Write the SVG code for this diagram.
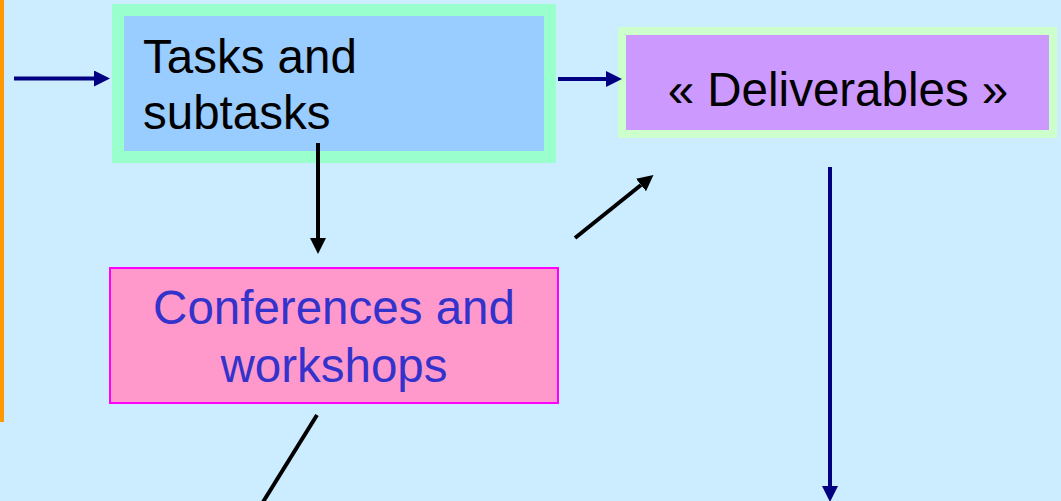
<svg xmlns="http://www.w3.org/2000/svg" width="1061" height="501" viewBox="0 0 1061 501">
<style>
.lbl{font-family:"Liberation Sans",Arial,sans-serif;font-size:47.5px}
.navy{stroke:#000080;stroke-width:4;fill:none}
.blk{stroke:#000000;stroke-width:4;fill:none}
</style>
<defs>
<marker id="ahNavy" markerUnits="userSpaceOnUse" viewBox="0 0 16 16" refX="0" refY="8" markerWidth="16" markerHeight="16" orient="auto">
<path d="M0,0 L16,8 L0,16 z" fill="#000080"/>
</marker>
<marker id="ahBlk" markerUnits="userSpaceOnUse" viewBox="0 0 16 16" refX="0" refY="8" markerWidth="16" markerHeight="16" orient="auto">
<path d="M0,0 L16,8 L0,16 z" fill="#000000"/>
</marker>
</defs>
<rect x="0" y="0" width="1061" height="501" fill="#CCECFF"/>
<rect x="0" y="0" width="4" height="422" fill="#FF9900"/>
<g id="tasks">
<rect x="118" y="10" width="432" height="147" fill="#99CCFF" stroke="#99FFCC" stroke-width="12"/>
<text class="lbl" x="143" y="73" fill="#000000">Tasks and</text>
<text class="lbl" x="143" y="129" fill="#000000">subtasks</text>
</g>
<g id="deliverables">
<rect x="622" y="31" width="431" height="103" fill="#CC99FF" stroke="#CCFFCC" stroke-width="8"/>
<text class="lbl" x="838" y="106" fill="#000000" text-anchor="middle">« Deliverables »</text>
</g>
<g id="conferences">
<rect x="110" y="268" width="448" height="135" fill="#FF99CC" stroke="#FF00FF" stroke-width="2"/>
<text class="lbl" x="334" y="324" fill="#3333CC" text-anchor="middle">Conferences and</text>
<text class="lbl" x="334" y="382" fill="#3333CC" text-anchor="middle">workshops</text>
</g>
<g id="connectors">
<line class="navy" x1="14" y1="78.5" x2="94" y2="78.5" marker-end="url(#ahNavy)"/>
<line class="navy" x1="558" y1="79" x2="606" y2="79" marker-end="url(#ahNavy)"/>
<line class="blk" x1="318" y1="143" x2="318" y2="238" marker-end="url(#ahBlk)"/>
<line class="blk" x1="575" y1="238" x2="641" y2="185" marker-end="url(#ahBlk)"/>
<line class="blk" x1="317" y1="415" x2="263" y2="502"/>
<line class="navy" x1="830" y1="167" x2="830" y2="486" marker-end="url(#ahNavy)"/>
</g>
</svg>
